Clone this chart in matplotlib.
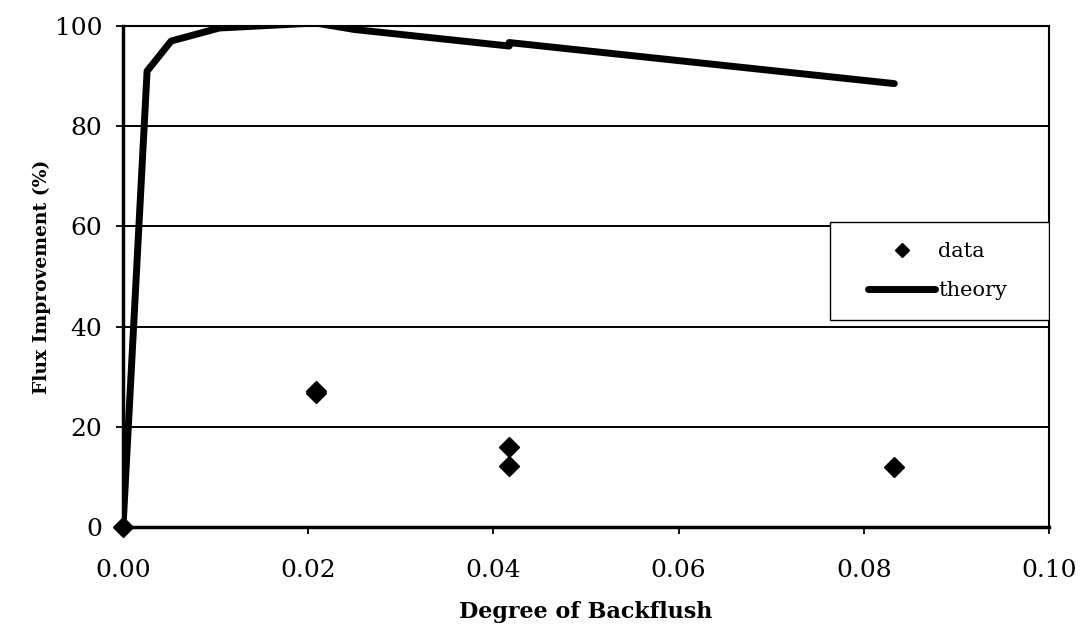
import matplotlib
matplotlib.use("Agg")
import matplotlib.pyplot as plt
from matplotlib.patches import Rectangle
from matplotlib.ticker import FormatStrFormatter

# Measured flux improvement versus degree of backflush
data_x = [0.0, 0.0208, 0.0208, 0.0417, 0.0417, 0.0833]
data_y = [0.0, 26.8, 27.2, 16.0, 12.2, 11.9]

# Model prediction
theory_x = [0.0, 0.0026, 0.0052, 0.0104, 0.0208, 0.0250, 0.0417, 0.0417, 0.0833]
theory_y = [0.0, 91.0, 97.0, 99.6, 100.6, 99.3, 96.0, 96.7, 88.5]

x_ticks = [0.00, 0.02, 0.04, 0.06, 0.08, 0.10]
y_ticks = [0, 20, 40, 60, 80, 100]

plt.rcParams["font.family"] = ["DejaVu Serif"]

fig = plt.figure(figsize=(10.81, 6.28), dpi=100)
ax = fig.add_axes([0.1138, 0.1608, 0.9704 - 0.1138, 0.9586 - 0.1608])

ax.set_xlim(0, 0.10)
ax.set_ylim(0, 100)
ax.set_xticks(x_ticks)
ax.set_yticks(y_ticks)
ax.xaxis.set_major_formatter(FormatStrFormatter("%.2f"))

ax.yaxis.grid(True, color="black", linewidth=1.4)
ax.set_axisbelow(True)

ax.plot(theory_x, theory_y, color="black", linewidth=5,
        solid_capstyle="round", solid_joinstyle="round", label="theory",
        zorder=3)
ax.plot(data_x, data_y, linestyle="none", marker="D", markersize=10,
        color="black", label="data", clip_on=False, zorder=4)

for side in ["left", "bottom"]:
    ax.spines[side].set_linewidth(2.5)
for side in ["top", "right"]:
    ax.spines[side].set_linewidth(1.5)

ax.tick_params(axis="both", direction="out", length=5, width=1.3,
               labelsize=18, colors="black")
ax.tick_params(axis="x", pad=18)
ax.tick_params(axis="y", pad=10)

ax.set_xlabel("Degree of Backflush", fontsize=16, fontweight="bold",
              labelpad=14)
ax.set_ylabel("Flux Improvement (%)", fontsize=13.5, fontweight="bold",
              labelpad=3)

# Legend box sits between the 40 and 60 gridlines at the right edge
box = Rectangle((0.763, 0.413), 0.237, 0.196, transform=ax.transAxes,
                facecolor="white", edgecolor="black", linewidth=1.0,
                zorder=5)
ax.add_patch(box)

handles, labels = ax.get_legend_handles_labels()
order = [1, 0]
leg = ax.legend([handles[i] for i in order], [labels[i] for i in order],
                loc="center left", bbox_to_anchor=(0.805, 0.511),
                fontsize=15, frameon=False, borderpad=0, borderaxespad=0,
                labelspacing=0.95, handlelength=3.2, handletextpad=0.15,
                markerscale=0.75)
leg.set_zorder(6)

fig.savefig("out.png", dpi=100)
